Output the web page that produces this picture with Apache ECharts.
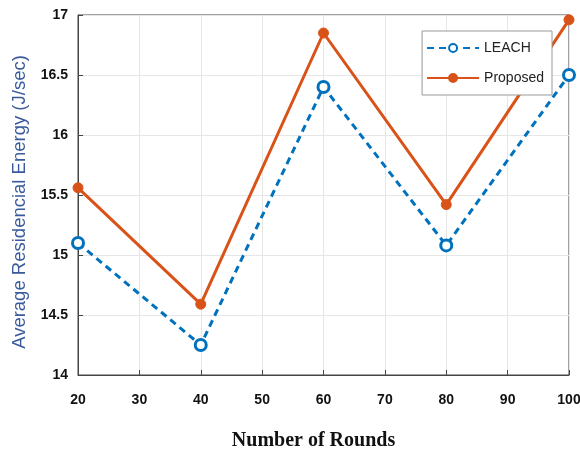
<!DOCTYPE html>
<html><head><meta charset="utf-8">
<script src="https://cdn.jsdelivr.net/npm/echarts@6/dist/echarts.min.js"></script>
<style>html,body{margin:0;padding:0;background:#fff}#c{width:580px;height:452px}</style>
</head><body><div id="c"></div>
<script>
const rounds = [20, 40, 60, 80, 100];
const leach = [15.1, 14.25, 16.4, 15.08, 16.5];
const proposed = [15.56, 14.59, 16.85, 15.42, 16.96];
const xTicks = [20, 30, 40, 50, 60, 70, 80, 90, 100];
const yTicks = [14, 14.5, 15, 15.5, 16, 16.5, 17];

const chart = echarts.init(document.getElementById('c'));
const tickFont = {fontFamily: '"Liberation Sans Narrow", "Liberation Sans", Arial, sans-serif', fontWeight: 'bold', fontSize: 14, color: '#111'};
chart.setOption({
  animation: false,
  grid: {left: 78, top: 15, width: 491, height: 360, show: true, borderColor: '#444', borderWidth: 1, outerBoundsMode: 'none', containLabel: false},
  legend: {
    right: 28, top: 31, orient: 'vertical', itemWidth: 52, itemHeight: 10, itemGap: 16,
    backgroundColor: '#fff', borderColor: '#999', borderWidth: 1, padding: [10, 8, 10, 4],
    textStyle: {fontFamily: 'Arial, sans-serif', fontSize: 14, color: '#222'},
    data: ['LEACH', 'Proposed']
  },
  xAxis: {
    type: 'value', min: 20, max: 100, interval: 10,
    name: 'Number of Rounds', nameLocation: 'middle', nameGap: 56,
    nameTextStyle: {fontFamily: '"Liberation Serif", "Times New Roman", serif', fontWeight: 'bold', fontSize: 20, color: '#111', padding: [0, 20, 0, 0]},
    axisLine: {show: true, lineStyle: {color: '#444'}},
    axisTick: {inside: true, length: 5, lineStyle: {color: '#444'}},
    splitLine: {show: true, lineStyle: {color: '#e6e6e6'}},
    axisLabel: Object.assign({margin: 18, formatter: v => xTicks.includes(v) ? String(v) : ''}, tickFont)
  },
  yAxis: {
    type: 'value', min: 14, max: 17, interval: 0.5,
    name: 'Average Residencial Energy (J/sec)', nameLocation: 'middle', nameGap: 48,
    nameTextStyle: {fontFamily: '"Liberation Sans", Arial, sans-serif', fontSize: 18.5, color: '#3a5a9c', padding: [0, 14, 0, 0]},
    axisLine: {show: true, lineStyle: {color: '#444'}},
    axisTick: {inside: true, length: 5, lineStyle: {color: '#444'}},
    splitLine: {show: true, lineStyle: {color: '#e6e6e6'}},
    axisLabel: Object.assign({margin: 10, formatter: v => yTicks.includes(v) ? String(v) : ''}, tickFont)
  },
  series: [
    {
      name: 'LEACH', type: 'line', data: rounds.map((r, i) => [r, leach[i]]),
      symbol: 'circle', symbolSize: 11, showAllSymbol: true,
      lineStyle: {color: '#0072BD', width: 3, type: [7, 5]},
      itemStyle: {color: '#fff', borderColor: '#0072BD', borderWidth: 3}
    },
    {
      name: 'Proposed', type: 'line', data: rounds.map((r, i) => [r, proposed[i]]),
      symbol: 'circle', symbolSize: 10,
      lineStyle: {color: '#D95319', width: 3},
      itemStyle: {color: '#D95319', borderColor: '#D95319', borderWidth: 1}
    }
  ]
});
</script></body></html>
